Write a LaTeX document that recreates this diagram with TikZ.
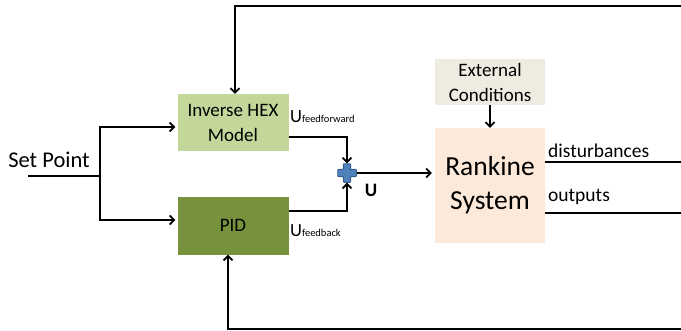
\documentclass[tikz,border=0pt]{standalone}
\usepackage{fontspec}
\setmainfont{Carlito}
\usetikzlibrary{arrows.meta}
\definecolor{invc}{HTML}{C4D79B}
\definecolor{pidc}{HTML}{76923C}
\definecolor{extc}{HTML}{EEECE1}
\definecolor{rankc}{HTML}{FDE9D9}
\definecolor{plusc}{HTML}{4F81BD}
\definecolor{plusd}{HTML}{385D8A}
\tikzset{
  box/.style={rectangle, inner sep=0pt, align=center, text=black, draw=none},
  wire/.style={line width=2.1pt, black},
  conn/.style={wire, -{Straight Barb[length=4.5pt,width=9pt,line width=1.8pt]}},
  lbl/.style={inner sep=0pt, text=black}
}
\begin{document}
\begin{tikzpicture}[x=1pt,y=-1pt]
\useasboundingbox (0,0) rectangle (681,330);
\clip (0,0) rectangle (681,330);

% blocks
\node[box, fill=invc, minimum width=111pt, minimum height=57pt,
      font=\fontsize{19}{25}\selectfont] (inv) at (233,122.5) {Inverse HEX\\Model};
\node[box, fill=pidc, minimum width=111pt, minimum height=58pt,
      font=\fontsize{19}{25}\selectfont] (pid) at (233,225.5) {PID};
\node[box, fill=extc, minimum width=110pt, minimum height=46pt,
      font=\fontsize{19}{25}\selectfont] (ext) at (490,82) {External\\Conditions};
\node[box, fill=rankc, minimum width=110pt, minimum height=115pt,
      font=\fontsize{27.5}{34}\selectfont] (rank) at (490,185.5) {Rankine\\System};

% summing junction
\node[inner sep=0pt, minimum size=19pt] (plus) at (347,173) {};
\begin{scope}[shift={(plus.center)}]
  \filldraw[fill=plusc, draw=plusd, line width=0.9pt, rounded corners=0.6pt]
    (-3.6,-9.3) -- (3.6,-9.3) -- (3.6,-3.6) -- (9.3,-3.6) -- (9.3,3.6) -- (3.6,3.6)
    -- (3.6,9.3) -- (-3.6,9.3) -- (-3.6,3.6) -- (-9.3,3.6) -- (-9.3,-3.6) -- (-3.6,-3.6) -- cycle;
\end{scope}

% set point
\node[lbl, font=\fontsize{22.5}{26}\selectfont] (sp) at (49,160) {Set Point};
\coordinate (spin) at (28,176);
\coordinate (br) at (100,176);
\draw[wire] (spin) -- (br);
\draw[conn, shorten >=2pt] (br) |- ([yshift=-4.5pt]inv.west);
\draw[conn, shorten >=2pt] (br) |- ([yshift=5.5pt]pid.west);

% to the summing junction
\draw[conn] ([yshift=-14.5pt]inv.east) -| (plus.north);
\draw[conn] ([yshift=14.5pt]pid.east) -| (plus.south);
\draw[conn, shorten >=3pt] (plus.east) -- (plus.east -| rank.west);
\draw[conn] (ext.south) -- (rank.north);

% labels
\node[lbl, anchor=west, font=\fontsize{18.5}{20}\selectfont] (uff) at (290,117)
  {U{\fontsize{10.5}{12}\selectfont feedforward}};
\node[lbl, anchor=west, font=\fontsize{18.5}{20}\selectfont] (ufb) at (290,231)
  {U{\fontsize{10.5}{12}\selectfont feedback}};
\node[lbl, font=\fontsize{19}{20}\selectfont\bfseries] (ulab) at (371,190) {U};
\node[lbl, anchor=west, font=\fontsize{19.5}{22}\selectfont] (dist) at (548,151) {disturbances};
\node[lbl, anchor=west, font=\fontsize{19.5}{22}\selectfont] (outs) at (548,197) {outputs};

% feedback loops (leave the frame on the right)
\coordinate (fbT) at (700,6);
\coordinate (fbB) at (700,328.6);
\draw[conn] ([yshift=23.5pt]rank.east) -| (fbT) -| ([xshift=2pt]inv.north);
\draw[conn] ([yshift=-27.5pt]rank.east) -| (fbB) -| ([xshift=-5pt]pid.south);
\end{tikzpicture}
\end{document}
